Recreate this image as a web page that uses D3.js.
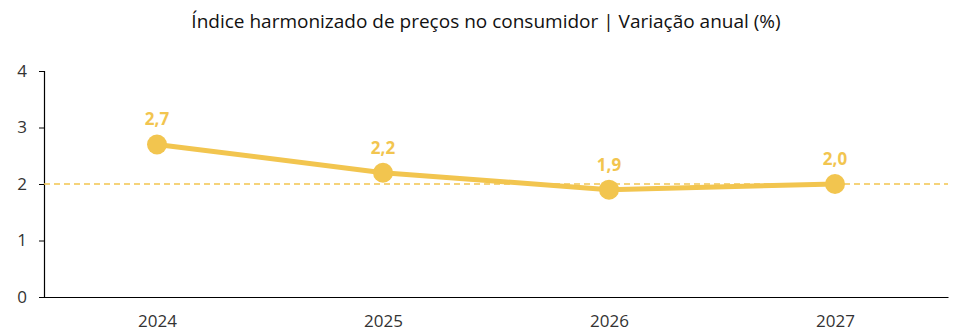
<!DOCTYPE html>
<html>
<head>
<meta charset="utf-8">
<script src="https://cdn.jsdelivr.net/npm/d3@7"></script>
<style>
	body { margin: 0; background: #fff; font-family: "Open Sans", sans-serif; }
	.domain, .tick line { stroke: #000; }
	.tick text { fill: #333; font-size: 17px; font-family: "Open Sans", sans-serif; }
</style>
</head>
<body>
<div id="vis"></div>
<script>
// IHPC annual change, forecast years
var years = ['2024', '2025', '2026', '2027'];
var values = [2.7, 2.2, 1.9, 2.0];
var yTicks = [0, 1, 2, 3, 4];
var target = 2;

var width = 964, height = 334;
var margin = { top: 71, right: 16, bottom: 37, left: 44 };
var colour = '#f2c54f';

var svg = d3.select('#vis').append('svg')
	.attr('width', width)
	.attr('height', height);

// title
svg.append('text')
	.attr('x', 486)
	.attr('y', 28)
	.attr('text-anchor', 'middle')
	.style('font-size', '19px')
	.style('fill', '#111')
	.text('Índice harmonizado de preços no consumidor | Variação anual (%)');

var x = d3.scalePoint()
	.domain(years)
	.range([margin.left, width - margin.right])
	.padding(0.5);

var y = d3.scaleLinear()
	.domain([0, 4])
	.range([height - margin.bottom, margin.top]);

// axes
svg.append('g')
	.attr('transform', 'translate(0,' + (height - margin.bottom) + ')')
	.call(d3.axisBottom(x).tickSize(0).tickPadding(18));

svg.append('g')
	.attr('transform', 'translate(' + margin.left + ',0)')
	.call(d3.axisLeft(y).tickValues(yTicks).tickSize(5).tickPadding(12).tickFormat(d3.format('d')));

svg.selectAll('.domain').attr('stroke-width', 1.2);

// 2% reference line
svg.append('line')
	.attr('x1', margin.left)
	.attr('x2', width - margin.right)
	.attr('y1', y(target))
	.attr('y2', y(target))
	.attr('stroke', colour)
	.attr('stroke-width', 1.5)
	.attr('stroke-dasharray', '6,4');

var data = years.map(function(d, i) { return { year: d, value: values[i] }; });

var line = d3.line()
	.x(function(d) { return x(d.year); })
	.y(function(d) { return y(d.value); });

svg.append('path')
	.datum(data)
	.attr('d', line)
	.attr('fill', 'none')
	.attr('stroke', colour)
	.attr('stroke-width', 5);

svg.selectAll('circle.pt').data(data).enter()
	.append('circle')
	.attr('class', 'pt')
	.attr('cx', function(d) { return x(d.year); })
	.attr('cy', function(d) { return y(d.value); })
	.attr('r', 10)
	.attr('fill', colour);

svg.selectAll('text.lbl').data(data).enter()
	.append('text')
	.attr('class', 'lbl')
	.attr('x', function(d) { return x(d.year); })
	.attr('y', function(d) { return y(d.value) - 19; })
	.attr('text-anchor', 'middle')
	.style('font-size', '17px')
	.style('font-weight', 'bold')
	.style('fill', colour)
	.text(function(d) { return d3.format('.1f')(d.value).replace('.', ','); });
</script>
</body>
</html>
